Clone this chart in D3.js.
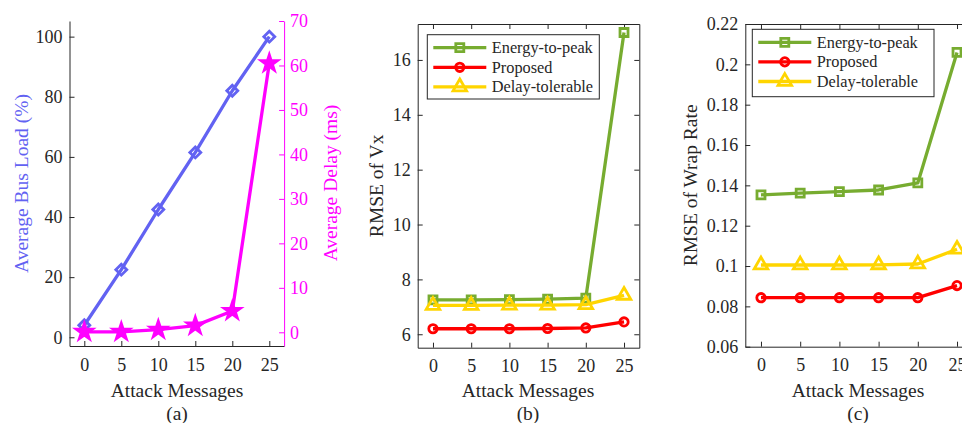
<!DOCTYPE html>
<html>
<head>
<meta charset="utf-8">
<script src="https://cdn.jsdelivr.net/npm/d3@7"></script>
<style>
body { margin: 0; background: #fff; }
text { font-family: "Liberation Serif", "Times New Roman", serif; }
</style>
</head>
<body>
<svg id="fig" width="962" height="423"></svg>
<script>
var attacks = [0, 5, 10, 15, 20, 25];
var xTicks = [0, 5, 10, 15, 20, 25];

// panel (a)
var busLoad = [4, 22.5, 42.5, 61.5, 82, 100];
var avgDelay = [0.1, 0.1, 0.6, 1.5, 4.8, 60.5];
var busTicks = [0, 20, 40, 60, 80, 100];
var delayTicks = [0, 10, 20, 30, 40, 50, 60, 70];

// panel (b)
var vxEnergy = [7.25, 7.25, 7.26, 7.28, 7.32, 17.0];
var vxProposed = [6.2, 6.2, 6.2, 6.21, 6.23, 6.45];
var vxDelayTol = [7.05, 7.05, 7.06, 7.06, 7.08, 7.42];
var vxTicks = [6, 8, 10, 12, 14, 16];

// panel (c)
var wrEnergy = [0.1353, 0.1361, 0.1369, 0.1377, 0.1412, 0.2059];
var wrProposed = [0.0843, 0.0843, 0.0843, 0.0843, 0.0843, 0.0903];
var wrDelayTol = [0.1005, 0.1005, 0.1005, 0.1006, 0.1010, 0.1083];
var wrTicks = [0.06, 0.08, 0.1, 0.12, 0.14, 0.16, 0.18, 0.2, 0.22];

var legendNames = ["Energy-to-peak", "Proposed", "Delay-tolerable"];

var axisColor = "#262626",
    green = "#77ac30",
    red = "#ff0000",
    yellow = "#ffd500",
    blue = "#6262f2",
    magenta = "#ff00ff";

var svg = d3.select("#fig");

function rows(vals) {
  return attacks.map(function(a, i) { return {t: a, y: vals[i]}; });
}

function styleAxis(gAx, color) {
  gAx.selectAll("path, line").attr("stroke", color).attr("stroke-width", 1);
  gAx.selectAll("text")
    .attr("fill", color)
    .style("font-size", "18px")
    .style("font-family", "'Liberation Serif', serif");
}

/* one axes box; returns scales and group */
function makeAxes(geom) {
  var ax = {};
  var x = d3.scaleLinear().domain([-2, 27]).range([geom.left, geom.right]),
      y = d3.scaleLinear().domain(geom.yDomain).range([geom.bottom, geom.top]);
  var g = svg.append("g");

  var gX = g.append("g")
      .attr("transform", "translate(0," + geom.bottom + ")")
      .call(d3.axisBottom(x).tickValues(xTicks).tickSizeInner(-5).tickSizeOuter(0).tickPadding(12));
  styleAxis(gX, axisColor);

  var gY = g.append("g")
      .attr("transform", "translate(" + geom.left + ",0)")
      .call(d3.axisLeft(y).tickValues(geom.yTicks).tickSizeInner(-5).tickSizeOuter(0)
        .tickPadding(7).tickFormat(geom.fmt));
  styleAxis(gY, axisColor);

  if (geom.box) {
    var gT = g.append("g")
        .attr("transform", "translate(0," + geom.top + ")")
        .call(d3.axisTop(x).tickValues(xTicks).tickSizeInner(-5).tickSizeOuter(0).tickFormat(""));
    styleAxis(gT, axisColor);
    var gR = g.append("g")
        .attr("transform", "translate(" + geom.right + ",0)")
        .call(d3.axisRight(y).tickValues(geom.yTicks).tickSizeInner(-5).tickSizeOuter(0).tickFormat(""));
    styleAxis(gR, axisColor);
  }

  svg.append("text")
      .attr("transform", "translate(" + geom.labelX + "," + ((geom.top + geom.bottom) / 2) + ") rotate(-90)")
      .attr("text-anchor", "middle")
      .attr("dy", "0.35em")
      .attr("fill", geom.labelColor || axisColor)
      .style("font-size", "19.5px")
      .text(geom.label);

  svg.append("text")
      .attr("x", geom.titleX)
      .attr("y", 397)
      .attr("text-anchor", "middle")
      .attr("fill", axisColor)
      .style("font-size", "19.5px")
      .text("Attack Messages");
  svg.append("text")
      .attr("x", geom.titleX)
      .attr("y", 420)
      .attr("text-anchor", "middle")
      .attr("fill", axisColor)
      .style("font-size", "19.5px")
      .text(geom.caption);

  ax.x = x; ax.y = y; ax.g = g;
  return ax;
}

function addSeries(ax, yScale, vals, color, shape, size, filled, rot) {
  var line = d3.line()
    .x(function(d) { return ax.x(d.t); })
    .y(function(d) { return yScale(d.y); });
  var data = rows(vals);
  ax.g.append("path")
    .datum(data)
    .attr("fill", "none")
    .attr("stroke", color)
    .attr("stroke-width", 3.3)
    .attr("stroke-linejoin", "round")
    .attr("d", line);
  ax.g.selectAll(null)
    .data(data)
    .enter().append("path")
      .attr("transform", function(d) {
        return "translate(" + ax.x(d.t) + "," + yScale(d.y) + ")" + (rot ? " rotate(" + rot + ")" : "");
      })
      .attr("d", d3.symbol().type(shape).size(size))
      .attr("fill", filled ? color : "none")
      .attr("stroke", color)
      .attr("stroke-width", 2.8);
}

function addLegend(ax, box, series) {
  var lg = ax.g.append("g");
  lg.append("rect")
    .attr("x", box.x).attr("y", box.y)
    .attr("width", box.w).attr("height", box.h)
    .attr("fill", "#fff")
    .attr("stroke", axisColor)
    .attr("stroke-width", 1);
  series.forEach(function(s, i) {
    var yy = box.y + 13 + i * 19.6;
    lg.append("line")
      .attr("x1", box.x + 6).attr("x2", box.x + 59)
      .attr("y1", yy).attr("y2", yy)
      .attr("stroke", s.color).attr("stroke-width", 3.3);
    lg.append("path")
      .attr("transform", "translate(" + (box.x + 32.5) + "," + yy + ")")
      .attr("d", d3.symbol().type(s.shape).size(s.size))
      .attr("fill", "none")
      .attr("stroke", s.color)
      .attr("stroke-width", 2.8);
    lg.append("text")
      .attr("x", box.x + 64.5)
      .attr("y", yy)
      .attr("dy", "0.33em")
      .attr("fill", axisColor)
      .style("font-size", "16.3px")
      .text(legendNames[i]);
  });
}

/* ---- panel (a) ---- */
var axA = makeAxes({
  left: 69.5, right: 284.1, top: 21, bottom: 346,
  yDomain: [-2.9, 105.2], yTicks: busTicks, fmt: d3.format("d"),
  label: "Average Bus Load (%)", labelX: 21, labelColor: blue,
  titleX: 177, caption: "(a)", box: false
});
var yDelay = d3.scaleLinear().domain([-3.08, 70]).range([346, 21]);
var gYR = axA.g.append("g")
    .attr("transform", "translate(284.1,0)")
    .call(d3.axisRight(yDelay).tickValues(delayTicks).tickSizeInner(-5).tickSizeOuter(0).tickPadding(6));
styleAxis(gYR, magenta);
svg.append("text")
    .attr("transform", "translate(330,183) rotate(-90)")
    .attr("text-anchor", "middle")
    .attr("dy", "0.35em")
    .attr("fill", magenta)
    .style("font-size", "19.5px")
    .text("Average Delay (ms)");

addSeries(axA, axA.y, busLoad, blue, d3.symbolSquare, 60, false, 45);
addSeries(axA, yDelay, avgDelay, magenta, d3.symbolStar, 80, true, 0);

/* ---- panel (b) ---- */
var axB = makeAxes({
  left: 417.7, right: 639.3, top: 24, bottom: 347.7,
  yDomain: [5.51, 17.31], yTicks: vxTicks, fmt: d3.format("d"),
  label: "RMSE of Vx", labelX: 376,
  titleX: 528, caption: "(b)", box: true
});
addSeries(axB, axB.y, vxEnergy, green, d3.symbolSquare, 64, false, 0);
addSeries(axB, axB.y, vxDelayTol, yellow, d3.symbolTriangle, 80, false, 0);
addSeries(axB, axB.y, vxProposed, red, d3.symbolCircle, 55, false, 0);
var legendSeries = [
  {color: green, shape: d3.symbolSquare, size: 64},
  {color: red, shape: d3.symbolCircle, size: 55},
  {color: yellow, shape: d3.symbolTriangle, size: 80}
];
addLegend(axB, {x: 427.3, y: 34.7, w: 172, h: 64.3}, legendSeries);

/* ---- panel (c) ---- */
var axC = makeAxes({
  left: 745.3, right: 972.7, top: 24, bottom: 346.7,
  yDomain: [0.06, 0.22], yTicks: wrTicks, fmt: function(d) { return String(+d.toFixed(2)); },
  label: "RMSE of Wrap Rate", labelX: 690,
  titleX: 858, caption: "(c)", box: true
});
addSeries(axC, axC.y, wrEnergy, green, d3.symbolSquare, 64, false, 0);
addSeries(axC, axC.y, wrDelayTol, yellow, d3.symbolTriangle, 80, false, 0);
addSeries(axC, axC.y, wrProposed, red, d3.symbolCircle, 55, false, 0);
addLegend(axC, {x: 752.3, y: 29.3, w: 181.7, h: 67.4}, legendSeries);
</script>
</body>
</html>
